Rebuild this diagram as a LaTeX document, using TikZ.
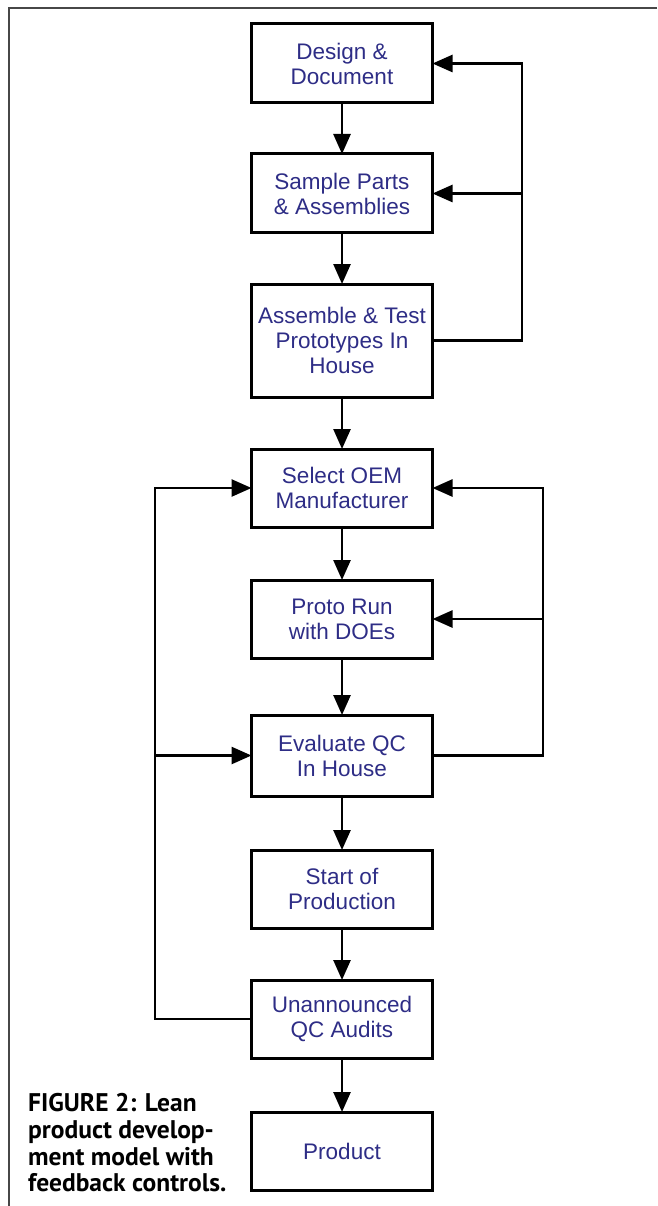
\documentclass[tikz,border=0pt]{standalone}
\usepackage{fontspec}
\setmainfont{Liberation Sans}
\newfontfamily\capfont{PT Sans}
\usetikzlibrary{arrows.meta,positioning}
\definecolor{Ink}{HTML}{2E2D86}
\definecolor{Frame}{HTML}{474747}
\tikzset{
  stage/.style={draw=black, line width=3pt, outer sep=0pt, fill=white, align=center, text=Ink, minimum width=181pt, minimum height=79pt, inner sep=2pt, font=\fontsize{22.5}{25}\selectfont},
  arrow/.style={-{Triangle[length=20pt,width=17pt]}, line width=2.6pt},
  frame/.style={draw=Frame, line width=2pt},
  caption/.style={align=left, inner sep=0pt, font=\capfont\bfseries\fontsize{25.5}{26.8}\selectfont}
}
\begin{document}
\begin{tikzpicture}[node distance=51pt]
\useasboundingbox (0pt,0pt) rectangle (657pt,-1206pt);
\draw[frame] (657pt,-8pt) -| (9pt,-1206pt);
\node[stage] (design) at (342pt,-63.5pt) {Design \&\\Document};
\node[stage, below=of design] (sample) {Sample Parts\\\& Assemblies};
\node[stage, below=of sample, minimum height=113pt] (assemble) {Assemble \& Test\\Prototypes In\\House};
\node[stage, below=52pt of assemble, minimum height=78pt] (oem) {Select OEM\\Manufacturer};
\node[stage, below=53pt of oem, minimum height=78pt] (proto) {Proto Run\\with DOEs};
\node[stage, below=57pt of proto, minimum height=81pt] (evalqc) {Evaluate QC\\In House};
\node[stage, below=54pt of evalqc, minimum height=78pt] (start) {Start of\\Production};
\node[stage, below=52pt of start, minimum height=78pt] (audit) {Unannounced\\QC Audits};
\node[stage, below=54pt of audit, minimum height=78pt] (product) {Product};
\foreach \a/\b in {design/sample,sample/assemble,assemble/oem,oem/proto,proto/evalqc,evalqc/start,start/audit,audit/product} \draw[arrow] (\a) -- (\b);
% feedback loops
\coordinate (fbone) at (522pt,0pt);
\coordinate (fbtwo) at (543pt,0pt);
\coordinate (fbleft) at (155pt,0pt);
\draw[arrow] (assemble.east) -- (assemble.east -| fbone) |- (design.east);
\draw[arrow] (sample.east -| fbone) -- (sample.east);
\draw[arrow] (evalqc.east) -- (evalqc.east -| fbtwo) |- (oem.east);
\draw[arrow] (proto.east -| fbtwo) -- (proto.east);
\draw[arrow] (audit.west) -- (audit.west -| fbleft) |- (oem.west);
\draw[arrow] (evalqc.west -| fbleft) -- (evalqc.west);
\node[caption, anchor=north west] (cap) at (28pt,-1093pt) {FIGURE 2: Lean\\product develop-\\ment model with\\feedback controls.};
\end{tikzpicture}
\end{document}
